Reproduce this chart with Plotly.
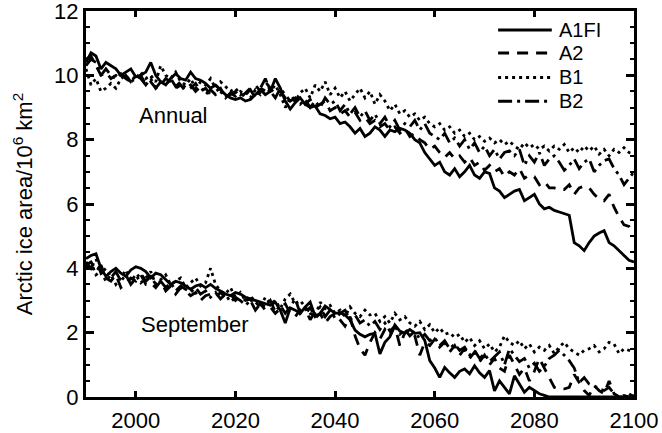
import plotly.graph_objects as go

years = list(range(1990, 2101))

annual_a1fi = [10.4, 10.7, 10.6, 10.2, 10.4, 10.3, 10.2, 10.0, 10.1, 10.2,
               9.95, 10.0, 10.1, 10.4, 10.0, 9.8, 9.7, 9.9, 10.05, 9.9,
               9.85, 10.1, 9.9, 9.85, 9.75, 9.6, 9.7, 9.55, 9.4, 9.3,
               9.25, 9.3, 9.2, 9.25, 9.4, 9.55, 9.4, 9.5, 9.9, 9.6,
               9.2, 8.95, 9.15, 9.3, 9.1, 9.0, 9.05, 8.8, 8.75, 8.65,
               8.7, 8.5, 8.55, 8.4, 8.2, 8.35, 8.1, 8.2, 8.4, 8.3,
               8.1, 8.3, 8.25, 8.35, 8.3, 8.2, 8.0, 7.9, 7.6, 7.4,
               7.2, 7.3, 7.0, 6.9, 7.1, 6.85, 7.0, 7.2, 6.9, 6.8,
               7.0, 6.95, 6.5, 6.4, 6.2, 6.3, 6.4, 6.45, 6.1, 6.2,
               6.3, 6.0, 5.85, 5.9, 5.8, 5.75, 5.7, 5.65, 4.8, 4.7,
               4.55, 4.8, 5.0, 5.1, 5.17, 4.8, 4.7, 4.55, 4.4, 4.25,
               4.2]

annual_a2 = [10.5, 10.6, 10.3, 10.0, 10.1, 9.9, 10.0, 9.9, 10.0, 9.8,
             9.9, 10.0, 9.7, 9.8, 9.6, 9.7, 9.9, 9.8, 9.6, 9.7,
             9.5, 9.6, 9.75, 9.5, 9.6, 9.4, 9.5, 9.6, 9.3, 9.4,
             9.5, 9.3, 9.45, 9.6, 9.7, 9.5, 9.8, 9.6, 9.4, 9.5,
             9.3, 9.4, 9.2, 9.35, 9.1, 9.25, 9.0, 9.1, 9.2, 8.9,
             9.0, 8.8, 8.9, 8.7, 8.85, 8.6, 8.7, 8.5, 8.6, 8.4,
             8.5, 8.3, 8.4, 8.2, 8.35, 8.1, 8.2, 8.0, 7.9, 7.7,
             7.8, 7.6, 7.45, 7.6, 7.4, 7.5, 7.3, 7.45, 7.2, 7.3,
             7.05, 7.2, 7.0, 7.1, 6.85, 7.0, 6.9, 7.1, 6.8, 6.9,
             6.85, 6.6, 6.7, 6.5, 6.5, 6.45, 6.45, 6.6, 6.3, 6.5,
             6.55, 6.5, 6.3, 6.15, 6.1, 6.3, 5.9, 5.6, 5.35, 5.3,
             5.1]

annual_b1 = [10.2, 9.7, 9.9, 9.5, 9.6, 9.75, 9.6, 9.9, 10.0, 9.8,
             9.9, 10.1, 9.9, 10.0, 9.8, 10.3, 10.0, 9.9, 10.1, 9.8,
             9.7, 9.9, 9.6, 9.8, 9.7, 9.9, 9.6, 9.8, 9.65, 9.5,
             9.6, 9.4, 9.5, 9.3, 9.55, 9.4, 9.6, 9.5, 9.7, 9.4,
             9.0, 9.3, 9.2, 9.45, 9.6, 9.3, 9.7, 9.5, 9.8, 9.4,
             9.6, 9.3, 9.5, 9.2, 9.4, 9.6, 9.3, 9.5, 9.1, 9.4,
             9.2, 8.9, 9.1, 8.8, 8.9, 8.7, 8.8, 8.6, 8.7, 8.5,
             8.4, 8.5, 8.3, 8.4, 8.2, 8.3, 8.1, 8.2, 8.0, 8.1,
             7.95, 8.05, 7.9, 8.0, 7.85, 7.95, 7.8, 7.7, 7.9, 7.75,
             7.85, 7.7, 7.8, 7.65, 7.8, 7.7, 7.85, 7.6, 7.75, 7.6,
             7.8, 7.65, 7.8, 7.55, 7.7, 7.5, 7.7, 7.6, 7.75, 7.6,
             7.55]

annual_b2 = [10.3, 10.5, 10.4, 10.0, 10.2, 10.0, 9.9, 10.05, 9.9, 9.8,
             10.0, 9.9, 9.7, 9.9, 9.6, 9.8, 9.7, 9.9, 9.65, 9.8,
             9.6, 9.7, 9.5, 9.65, 9.4, 9.55, 9.4, 9.5, 9.3, 9.45,
             9.35, 9.5, 9.4, 9.55, 9.3, 9.6, 9.9, 9.5, 9.3, 9.6,
             9.4, 9.2, 9.3, 9.1, 9.25, 9.0, 9.2, 9.0, 9.3, 9.1,
             9.2, 8.9, 9.1, 8.8, 9.0, 8.7, 8.9, 8.6, 8.8, 8.5,
             8.7, 8.4, 8.6, 8.3, 8.5, 8.4, 8.6, 8.3, 8.5, 8.2,
             8.1, 8.0, 8.2, 7.9, 8.05, 7.8, 8.0, 7.7, 7.9, 7.6,
             7.8, 7.5, 7.7, 7.4, 7.6, 7.65, 7.5, 7.7, 7.2, 7.5,
             7.3, 7.6, 7.2, 7.4, 7.5, 7.3, 7.05, 7.2, 7.4, 7.1,
             7.3, 7.4, 7.0, 7.2, 7.35, 7.4, 7.1, 6.9, 6.6, 6.8,
             7.0]

sep_a1fi = [4.3, 4.4, 4.45, 4.0, 3.75, 3.9, 4.0, 3.85, 3.75, 3.95,
            4.05, 4.0, 3.9, 3.7, 3.85, 3.8, 3.65, 3.5, 3.6, 3.55,
            3.45, 3.35, 3.45, 3.5, 3.4, 3.5, 3.38, 3.3, 3.2, 3.15,
            3.25, 3.2, 3.1, 3.05, 3.0, 2.95, 2.9, 2.85, 2.95, 2.7,
            2.3, 2.77, 2.7, 2.6, 2.8, 2.95, 2.5, 2.6, 2.83, 2.7,
            2.6, 2.62, 2.55, 2.4, 2.08, 1.95, 1.87, 1.95, 1.98, 1.34,
            1.7, 1.87, 2.24, 2.05, 1.98, 2.1, 1.98, 2.0, 1.76, 1.13,
            0.9, 0.61, 0.92, 0.75, 0.61, 0.8, 0.87, 0.72, 0.97, 0.75,
            0.61, 0.82, 0.19, 0.5, 0.3, 0.1, 0.66, 0.4, 0.15, 0.3,
            0.2, 0.1, 0.05, 0.0, 0.0, 0.0, 0.0, 0.0, 0.0, 0.0,
            0.0, 0.0, 0.0, 0.0, 0.0, 0.0, 0.0, 0.0, 0.0, 0.0,
            0.0]

sep_a2 = [4.1, 4.2, 3.9, 4.1, 3.7, 3.6, 3.8, 3.4, 3.55, 3.7,
          3.6, 3.8, 3.5, 3.55, 3.4, 3.6, 3.3, 3.45, 3.2, 3.4,
          3.3, 3.15, 3.25, 3.0, 3.15, 3.2, 3.1, 3.25, 3.1, 3.2,
          3.0, 3.15, 3.0, 3.05, 2.8, 2.9, 2.7, 2.8, 2.6, 2.75,
          2.9, 2.6, 2.5, 2.7, 2.55, 2.8, 2.45, 2.6, 2.3, 2.5,
          2.6, 2.4, 2.2, 2.5, 1.9, 1.5, 1.3, 1.7, 2.0, 1.8,
          2.1, 1.9, 2.2, 1.6, 2.0, 2.1, 1.9, 1.3, 1.7, 1.6,
          1.8, 1.55, 1.7, 1.4, 1.6, 1.3, 1.5, 1.2, 1.4, 1.1,
          1.3, 1.0, 1.2, 0.9, 0.8, 1.3, 1.0, 0.7, 0.9, 0.5,
          0.8, 1.2, 0.9, 0.6, 0.3, 0.25, 0.25, 0.3, 0.7, 0.45,
          0.2, 0.05, 0.35, 0.2, 0.1, 0.5, 0.1, 0.0, 0.0, 0.1,
          0.0]

sep_b1 = [4.0, 4.2, 3.8, 3.9, 3.6, 3.8, 3.5, 3.7, 3.95, 3.6,
          3.8, 3.55, 3.7, 3.9, 3.5, 3.65, 3.8, 3.5, 3.6, 3.7,
          3.4, 3.55, 3.7, 3.45, 3.55, 4.0, 3.5, 3.3, 3.2, 3.4,
          3.1, 3.25, 3.0, 3.15, 2.95, 2.8, 3.1, 2.9, 3.0, 2.75,
          3.05, 3.2, 2.9, 3.0, 2.8, 2.6, 2.5, 2.95, 2.75, 2.85,
          2.6, 2.7, 2.5, 2.8, 2.6, 2.5, 2.7, 2.55, 2.6, 2.35,
          2.5, 2.3, 2.6, 2.4, 2.5, 2.3, 2.2, 2.35, 2.1, 2.25,
          2.0, 2.15, 1.95, 2.0, 1.85, 1.95, 1.7, 1.85, 1.6, 1.75,
          1.5, 1.65, 1.4, 1.55, 1.9, 1.7, 1.6, 1.75, 1.5, 1.65,
          1.4, 1.55, 1.45, 1.6, 1.35, 1.55, 1.7, 1.5, 1.4, 1.3,
          1.45, 1.5, 1.6, 1.4, 1.5, 1.7, 1.65, 1.35, 1.5, 1.45,
          1.4]

sep_b2 = [4.2, 4.0, 4.3, 3.85, 4.0, 3.7, 3.9, 3.6, 3.8, 3.5,
          3.7, 3.85, 3.6, 3.75, 3.5, 3.6, 3.4, 3.55, 3.3, 3.45,
          3.35, 3.25, 3.4, 3.2, 3.3, 3.1, 3.25, 3.05, 3.2, 2.95,
          3.1, 3.0, 2.85, 3.0, 2.7, 2.9, 2.8, 3.0, 2.65, 2.85,
          2.6, 2.8, 3.05, 2.6, 2.75, 2.4, 2.65, 2.8, 2.5, 2.7,
          2.45, 2.6, 2.7, 2.4, 2.55, 2.3, 2.4, 2.2, 2.35, 2.1,
          2.3, 2.05, 2.2, 1.95, 2.1, 1.9, 2.05, 1.8, 1.95, 1.75,
          1.85, 1.6, 1.75, 1.5, 1.65, 1.45, 1.55, 1.3, 1.45, 1.2,
          1.35, 1.1, 1.25, 1.4, 1.0, 1.5, 1.3, 1.1, 1.2, 0.9,
          1.05, 0.8, 0.95, 1.2, 1.3, 1.45, 1.3, 1.13, 0.9, 0.45,
          0.6, 0.4, 0.35, 0.25, 0.2, 0.3, 0.1, 0.0, 0.05, 0.0,
          0.05]

scenario_names = ["A1FI", "A2", "B1", "B2"]
dash_styles = ["solid", "11px,8px", "3px,4px", "14px,5px,3px,5px"]
annual_series = [annual_a1fi, annual_a2, annual_b1, annual_b2]
sep_series = [sep_a1fi, sep_a2, sep_b1, sep_b2]

x_ticks = [2000, 2020, 2040, 2060, 2080, 2100]
y_ticks = [0, 2, 4, 6, 8, 10, 12]

FONT = "Liberation Sans, Arial, Helvetica, sans-serif"
FS = 22

fig = go.Figure()
for name, dash, ann, sep in zip(scenario_names, dash_styles, annual_series, sep_series):
    fig.add_trace(go.Scatter(x=years, y=ann, mode="lines", name=name,
                             legendgroup=name, showlegend=False,
                             line=dict(color="black", width=2.8, dash=dash)))
    fig.add_trace(go.Scatter(x=years, y=sep, mode="lines", name=name,
                             legendgroup=name, showlegend=False,
                             line=dict(color="black", width=2.8, dash=dash)))

# Legend drawn as key lines + labels in the top-right corner of the plot area
legend_rows_y = [0.951, 0.891, 0.828, 0.766]
for name, dash, ly in zip(scenario_names, dash_styles, legend_rows_y):
    fig.add_shape(type="line", xref="paper", yref="paper",
                  x0=0.752, x1=0.850, y0=ly, y1=ly,
                  line=dict(color="black", width=3, dash=dash))
    fig.add_annotation(xref="paper", yref="paper", x=0.862, y=ly,
                       xanchor="left", yanchor="middle", text=name,
                       showarrow=False, borderpad=0,
                       font=dict(family=FONT, size=20, color="black"))

fig.add_annotation(x=2007.5, y=8.76, text="Annual", showarrow=False,
                   font=dict(family=FONT, size=FS, color="black"))
fig.add_annotation(x=2011.9, y=2.24, text="September", showarrow=False,
                   font=dict(family=FONT, size=FS, color="black"))

fig.update_layout(
    width=662, height=433,
    margin=dict(l=86, r=28, t=11, b=36, autoexpand=False),
    paper_bgcolor="white", plot_bgcolor="white",
    font=dict(family=FONT, size=FS, color="black"),
    showlegend=False,
)
fig.update_xaxes(range=[1990, 2100], tickvals=x_ticks,
                 ticktext=[str(v) for v in x_ticks],
                 ticks="inside", ticklen=6, tickwidth=3, tickcolor="black",
                 showline=True, linewidth=3, linecolor="black", mirror="ticks",
                 showgrid=False, zeroline=False, ticklabeloverflow="allow",
                 ticklabelstandoff=2, automargin=False,
                 tickfont=dict(family=FONT, size=FS, color="black"))
fig.update_yaxes(range=[0, 12], tickvals=y_ticks,
                 ticks="inside", ticklen=8, tickwidth=3, tickcolor="black",
                 minor=dict(dtick=0.5, ticks="inside", ticklen=4, tickwidth=2,
                            tickcolor="black", showgrid=False),
                 showline=True, linewidth=3, linecolor="black", mirror="ticks",
                 showgrid=False, zeroline=False, automargin=False,
                 ticklabeloverflow="allow",
                 title=dict(text="Arctic ice area/10<sup>6</sup> km<sup>2</sup>",
                            font=dict(family=FONT, size=FS, color="black"),
                            standoff=16),
                 tickfont=dict(family=FONT, size=FS, color="black"))

fig.write_html("out.html",
               config={"displayModeBar": False},
               post_script="document.body.style.margin='0px';")
